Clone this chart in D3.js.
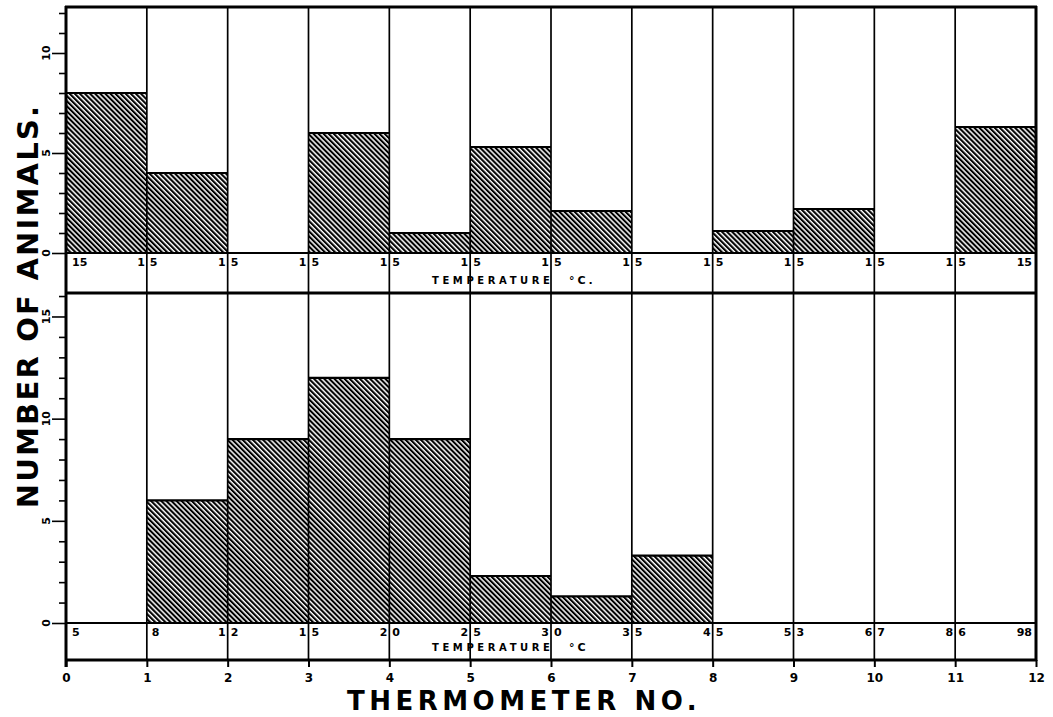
<!DOCTYPE html>
<html>
<head>
<meta charset="utf-8">
<script src="https://cdn.jsdelivr.net/npm/d3@7"></script>
<style>
  body { margin: 0; background: #fff; }
  svg { display: block; }
  text { font-family: "DejaVu Sans", sans-serif; fill: #000; }
</style>
</head>
<body>
<div id="chart"></div>
<script>
'use strict';

// thermometer positions along the transect
const thermometers = [0, 1, 2, 3, 4, 5, 6, 7, 8, 9, 10, 11];
const xTickValues = [0, 1, 2, 3, 4, 5, 6, 7, 8, 9, 10, 11, 12];

// animals counted between each pair of thermometers
const upperCounts = [8, 4, 0, 6, 1, 5.3, 2.1, 0, 1.1, 2.2, 0, 6.3];
const lowerCounts = [0, 6, 9, 12, 9, 2.3, 1.3, 3.3, 0, 0, 0, 0];

// temperature read at each thermometer (°C)
const upperTemps = [15, 15, 15, 15, 15, 15, 15, 15, 15, 15, 15, 15, 15];
const lowerTemps = [5, 8, 12, 15, 20, 25, 30, 35, 45, 53, 67, 86, 98];

const upperYTicks = [0, 5, 10];
const lowerYTicks = [0, 5, 10, 15];

const W = 1053, H = 717;
const cfg = {
  left: 66, right: 1036,
  upper: { top: 7, base: 253, rowBottom: 293, max: 12.3 },
  lower: { top: 294, base: 623, rowBottom: 660, max: 16.1 }
};

const svg = d3.select('#chart').append('svg')
  .attr('width', W).attr('height', H);

// diagonal hatching, lines running top-left to bottom-right
const defs = svg.append('defs');
defs.append('pattern')
  .attr('id', 'hatch')
  .attr('patternUnits', 'userSpaceOnUse')
  .attr('width', 3.6).attr('height', 10)
  .attr('patternTransform', 'rotate(-45)')
  .append('rect')
  .attr('x', 0).attr('y', 0)
  .attr('width', 2.1).attr('height', 10)
  .attr('fill', '#000');

const x = d3.scaleLinear().domain([0, 12]).range([cfg.left, cfg.right]);

const panel = (p, counts, temps, yTicks, label) => {
  const y = d3.scaleLinear().domain([0, p.max]).range([p.base, p.top]);
  const g = svg.append('g');

  // hatched bars
  g.selectAll('.bar').data(thermometers).enter().append('rect')
    .attr('class', 'bar')
    .attr('x', d => x(d))
    .attr('width', d => x(d + 1) - x(d))
    .attr('y', d => y(counts[d]))
    .attr('height', d => y(0) - y(counts[d]))
    .attr('fill', 'url(#hatch)');

  // bar tops
  g.selectAll('.bar-top').data(thermometers.filter(d => counts[d] > 0)).enter()
    .append('line')
    .attr('x1', d => x(d)).attr('x2', d => x(d + 1))
    .attr('y1', d => y(counts[d])).attr('y2', d => y(counts[d]))
    .attr('stroke', '#000').attr('stroke-width', 2.2);

  // baseline (top of temperature row)
  g.append('line')
    .attr('x1', cfg.left).attr('x2', cfg.right)
    .attr('y1', y(0)).attr('y2', y(0))
    .attr('stroke', '#000').attr('stroke-width', 2.2);

  // left axis with a tick per animal
  const axis = d3.axisLeft(y)
    .tickValues(d3.range(0, Math.floor(p.max) + 1))
    .tickSize(0).tickFormat('');
  const $axis = g.append('g').attr('transform', `translate(${cfg.left},0)`).call(axis);
  $axis.select('.domain').remove();
  $axis.selectAll('.tick line').remove();
  $axis.selectAll('.tick').append('line')
    .attr('x1', d => yTicks.includes(d) ? -14 : -7).attr('x2', 0)
    .attr('stroke', '#000').attr('stroke-width', 1.6);
  g.selectAll('.ylab').data(yTicks).enter().append('text')
    .attr('transform', d => `translate(${cfg.left - 15},${y(d)}) rotate(-90)`)
    .attr('text-anchor', 'middle')
    .attr('dy', '-0.05em')
    .style('font-size', '11px').style('font-weight', 'bold')
    .text(d => d);

  // temperature labels, split around each thermometer line
  const ty = p.base + 13;
  temps.forEach((t, i) => {
    const s = String(t);
    const xi = x(i);
    const tx = g.append('text').attr('y', ty)
      .style('font-size', '11px').style('font-weight', 'bold');
    if (i === 0) {
      tx.attr('x', xi + 6).attr('text-anchor', 'start').text(s);
    } else if (i === temps.length - 1) {
      tx.attr('x', xi - 4).attr('text-anchor', 'end').text(s);
    } else if (s.length === 1) {
      tx.attr('x', xi + 5).attr('text-anchor', 'start').text(s);
    } else {
      tx.attr('x', xi - 2).attr('text-anchor', 'end').text(s.slice(0, 1));
      g.append('text').attr('y', ty).attr('x', xi + 3)
        .style('font-size', '11px').style('font-weight', 'bold')
        .text(s.slice(1));
    }
  });
  g.append('text')
    .attr('x', 432).attr('y', p.rowBottom - 9)
    .style('font-size', '10px').style('font-weight', 'bold')
    .style('letter-spacing', '3.6px')
    .text('TEMPERATURE');
  g.append('text')
    .attr('x', 569).attr('y', p.rowBottom - 9)
    .style('font-size', '11px').style('font-weight', 'bold')
    .style('letter-spacing', '3px')
    .text(label);

  // bottom of temperature row
  g.append('line')
    .attr('x1', cfg.left).attr('x2', cfg.right)
    .attr('y1', p.rowBottom).attr('y2', p.rowBottom)
    .attr('stroke', '#000').attr('stroke-width', 3);
};

panel(cfg.upper, upperCounts, upperTemps, upperYTicks, '°C.');
panel(cfg.lower, lowerCounts, lowerTemps, lowerYTicks, '°C');

// thermometer lines through both panels
svg.append('g').selectAll('line').data(xTickValues.slice(1, -1)).enter().append('line')
  .attr('x1', d => x(d)).attr('x2', d => x(d))
  .attr('y1', cfg.upper.top).attr('y2', cfg.lower.rowBottom)
  .attr('stroke', '#000').attr('stroke-width', 1.7);

// frame
svg.append('line')
  .attr('x1', cfg.left - 1).attr('x2', cfg.right + 1)
  .attr('y1', cfg.upper.top).attr('y2', cfg.upper.top)
  .attr('stroke', '#000').attr('stroke-width', 3);
svg.append('line')
  .attr('x1', cfg.left).attr('x2', cfg.left)
  .attr('y1', cfg.upper.top - 1).attr('y2', cfg.lower.rowBottom + 7)
  .attr('stroke', '#000').attr('stroke-width', 3);
svg.append('line')
  .attr('x1', cfg.right).attr('x2', cfg.right)
  .attr('y1', cfg.upper.top - 1).attr('y2', cfg.lower.rowBottom + 1)
  .attr('stroke', '#000').attr('stroke-width', 3);

// x axis: thermometer number
const xAxis = d3.axisBottom(x).tickValues(xTickValues).tickSize(7).tickPadding(6)
  .tickFormat(d => d);
const $x = svg.append('g').attr('transform', `translate(0,${cfg.lower.rowBottom})`).call(xAxis);
$x.select('.domain').remove();
$x.selectAll('.tick line').attr('stroke', '#000').attr('stroke-width', 2);
$x.selectAll('.tick text')
  .style('font-family', '"DejaVu Sans", sans-serif')
  .style('font-size', '12px').style('font-weight', 'bold').attr('fill', '#000');

svg.append('text')
  .attr('x', 524).attr('y', 710)
  .attr('text-anchor', 'middle')
  .style('font-size', '26px').style('font-weight', 'bold')
  .style('letter-spacing', '4.5px')
  .text('THERMOMETER NO.');

svg.append('text')
  .attr('transform', 'translate(38,306) rotate(-90)')
  .attr('text-anchor', 'middle')
  .style('font-size', '29px').style('font-weight', 'bold')
  .style('letter-spacing', '2.2px')
  .text('NUMBER OF ANIMALS.');
</script>
</body>
</html>
